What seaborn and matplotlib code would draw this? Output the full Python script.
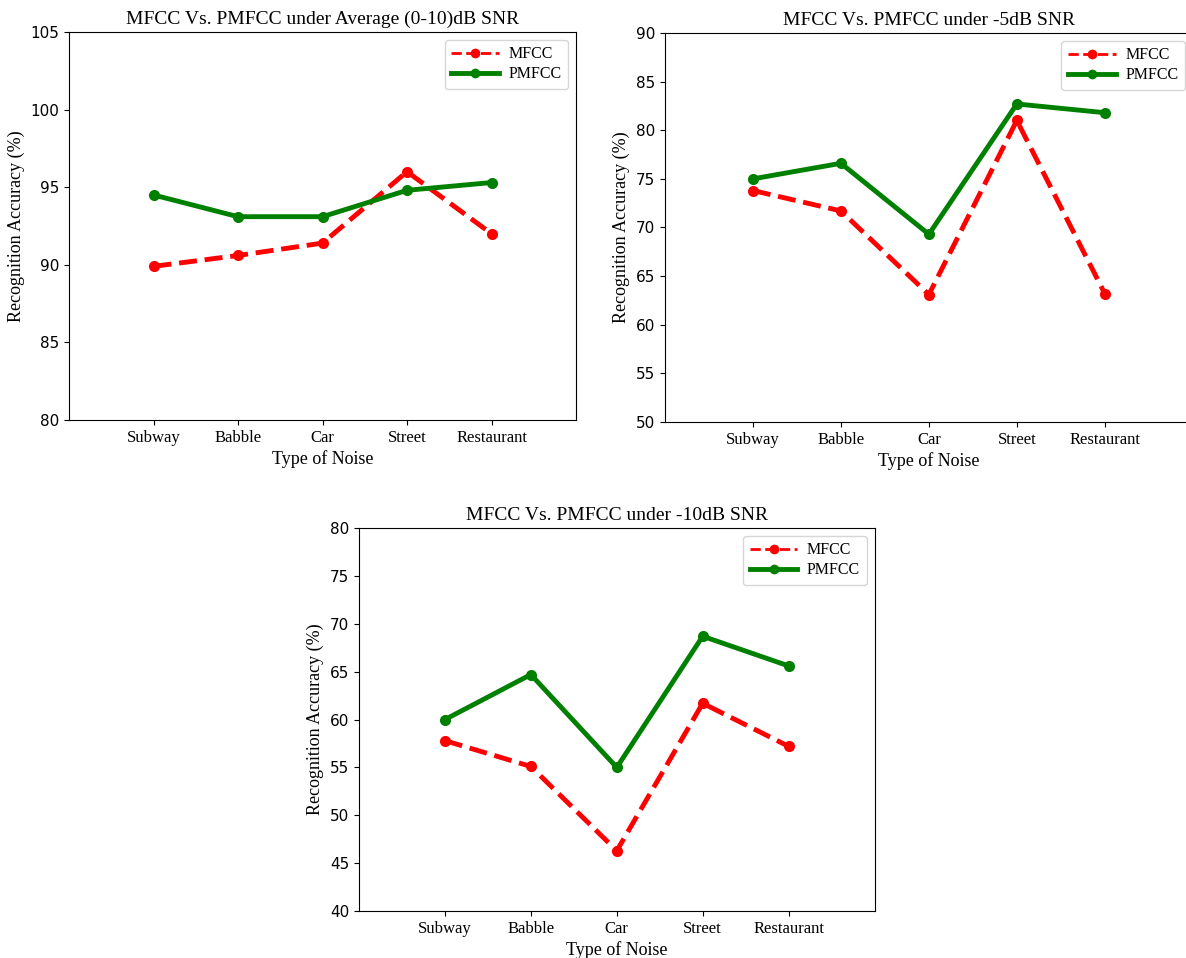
import matplotlib
matplotlib.use("Agg")
import matplotlib.pyplot as plt
import seaborn as sns
import pandas as pd

noise_types = ["Subway", "Babble", "Car", "Street", "Restaurant"]

mfcc_avg = [89.9, 90.6, 91.4, 96.0, 92.0]
pmfcc_avg = [94.5, 93.1, 93.1, 94.8, 95.3]

mfcc_m5 = [73.8, 71.7, 63.1, 81.0, 63.2]
pmfcc_m5 = [75.0, 76.6, 69.3, 82.7, 81.8]

mfcc_m10 = [57.8, 55.1, 46.3, 61.7, 57.2]
pmfcc_m10 = [60.0, 64.7, 55.0, 68.7, 65.6]

titles = ["MFCC Vs. PMFCC under Average (0-10)dB SNR",
          "MFCC Vs. PMFCC under -5dB SNR",
          "MFCC Vs. PMFCC under -10dB SNR"]
y_ranges = [(80, 105), (50, 90), (40, 80)]

serif = ["Liberation Serif", "DejaVu Serif"]


def draw(ax, mfcc, pmfcc, title, ylim):
    df = pd.DataFrame({"Noise": noise_types, "MFCC": mfcc, "PMFCC": pmfcc})
    sns.lineplot(data=df, x="Noise", y="MFCC", ax=ax, color="red",
                 linestyle="--", linewidth=3.5, marker="o", markersize=8,
                 markeredgewidth=0, label="MFCC")
    sns.lineplot(data=df, x="Noise", y="PMFCC", ax=ax, color="green",
                 linestyle="-", linewidth=3.5, marker="o", markersize=8,
                 markeredgewidth=0, label="PMFCC")
    ax.set_xlim(-1, 5)
    ax.set_ylim(*ylim)
    ax.set_title(title, family=serif, fontsize=14)
    ax.set_xlabel("Type of Noise", family=serif, fontsize=13, labelpad=3)
    ax.set_ylabel("Recognition Accuracy (%)", family=serif, fontsize=13)
    for lab in ax.get_xticklabels():
        lab.set_family(serif)
        lab.set_fontsize(12)
    ax.tick_params(axis="y", labelsize=11)
    leg = ax.legend(loc="upper right", prop={"family": serif, "size": 11.5},
                    handlelength=3.0, handletextpad=0.6, labelspacing=0.25,
                    borderpad=0.4)
    hl = leg.get_lines()
    hl[0].set_linewidth(2)
    hl[0].set_markersize(7)
    hl[1].set_linewidth(3.5)
    hl[1].set_markersize(7)


fig = plt.figure(figsize=(11.86, 9.58), dpi=100)
ax1 = fig.add_axes([0.0582, 0.5616, 0.4275, 0.405])
ax2 = fig.add_axes([0.5607, 0.5595, 0.445, 0.4061])
ax3 = fig.add_axes([0.3027, 0.049, 0.4347, 0.3998])

draw(ax1, mfcc_avg, pmfcc_avg, titles[0], y_ranges[0])
draw(ax2, mfcc_m5, pmfcc_m5, titles[1], y_ranges[1])
draw(ax3, mfcc_m10, pmfcc_m10, titles[2], y_ranges[2])

fig.savefig("out.png", dpi=100)
